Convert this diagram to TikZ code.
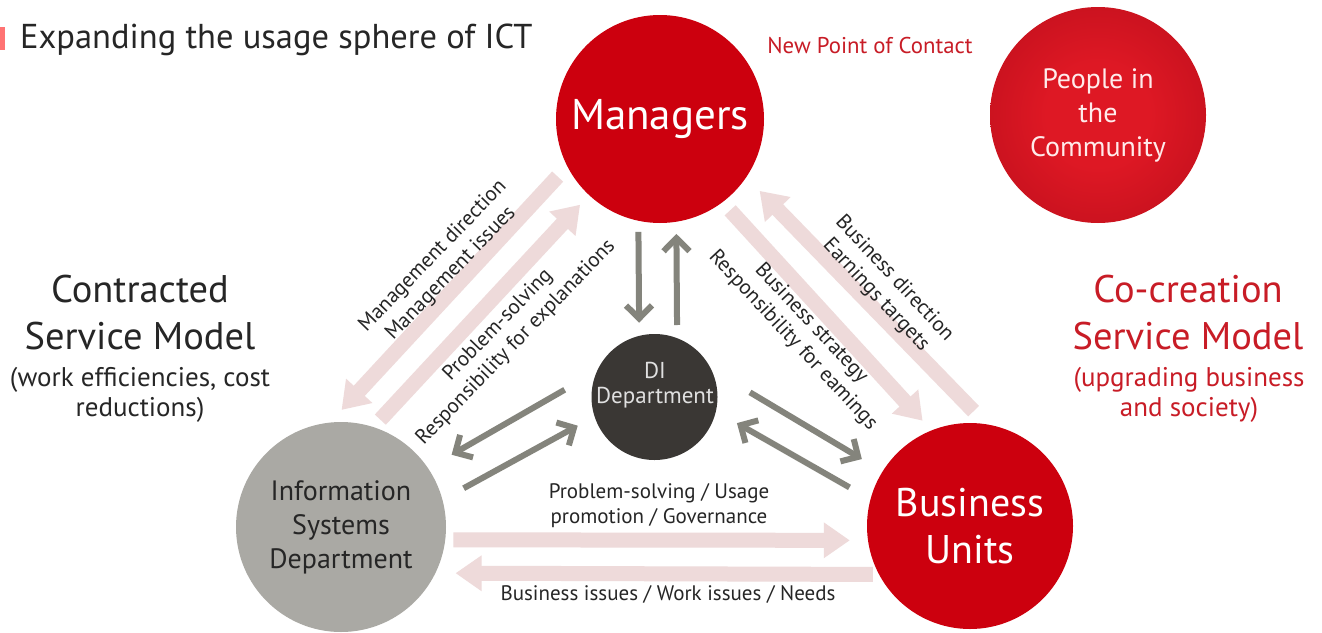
\documentclass[tikz,border=0pt]{standalone}
\usepackage{fontspec}
\setmainfont{PT Sans}
\usetikzlibrary{arrows.meta}
\definecolor{mred}{RGB}{204,0,14}
\definecolor{pcin}{RGB}{222,24,36}
\definecolor{pcout}{RGB}{168,8,22}
\definecolor{digray}{RGB}{58,55,52}
\definecolor{isgray}{RGB}{170,169,164}
\definecolor{pinkc}{RGB}{238,218,218}
\definecolor{arrgray}{RGB}{132,132,124}
\definecolor{txtdark}{RGB}{38,38,38}
\definecolor{txtred}{RGB}{200,28,38}
\pgfdeclareradialshading{pcshade}{\pgfpoint{0bp}{0bp}}{color(0bp)=(pcin); color(12bp)=(pcin); color(50bp)=(pcout); color(72bp)=(pcout)}
\begin{document}
\begin{tikzpicture}[x=1pt,y=-1pt,
  bigcircle/.style={circle,inner sep=0pt,align=center},
  pinkarrow/.style={line width=15pt,color=pinkc,-{Triangle[length=26pt,width=34pt]}},
  grayarrow/.style={line width=6pt,color=arrgray,-{Straight Barb[length=13pt,width=26pt]}},
  smalllabel/.style={text=txtdark,align=center,font=\fontsize{21}{25}\selectfont},
  modeltitle/.style={align=center,font=\fontsize{38.5}{47}\selectfont},
  modelsub/.style={align=center,font=\fontsize{27}{30}\selectfont}
]
\useasboundingbox (0,0) rectangle (1322,632);
\fill[white] (0,0) rectangle (1322,632);

% title
\fill[red!55] (0,27) rectangle (5,50);
\node[anchor=west,text=txtdark,font=\fontsize{34.5}{38}\selectfont,inner sep=0pt] (title) at (20,40) {Expanding the usage sphere of ICT};

% circles
\node[bigcircle,fill=mred,minimum size=208pt,text=white,font=\fontsize{43}{46}\selectfont] (man) at (660,119) {Managers};
\node[bigcircle,shading=pcshade,minimum size=216pt,text=white!92!red,font=\fontsize{28}{34}\selectfont] (pc) at (1098,115) {People in\\the\\Community};
\node[bigcircle,fill=digray,minimum size=126pt] (di) at (654.5,397) {};
\node[text=white!88!black,align=center,font=\fontsize{23}{25}\selectfont] (ditext) at (655,385) {DI\\Department};
\node[bigcircle,fill=isgray,minimum size=210pt,text=txtdark,font=\fontsize{28}{34}\selectfont] (isd) at (341,527) {Information\\Systems\\Department};
\node[bigcircle,fill=mred,minimum size=206pt,text=white,font=\fontsize{40}{47}\selectfont] (bu) at (970,526) {Business\\Units};

% side texts
\node[modeltitle,text=txtdark] (cmodel) at (140,313) {Contracted\\Service Model};
\node[modelsub,text=txtdark] (csub) at (140,395) {(work efficiencies, cost\\reductions)};
\node[modeltitle,text=txtred] (ccmodel) at (1188,313) {Co-creation\\Service Model};
\node[modelsub,text=txtred] (ccsub) at (1189,395) {(upgrading business\\and society)};
\node[text=txtred,font=\fontsize{22.8}{24}\selectfont] (npc) at (870,46) {New Point of Contact};

% pink arrows
\draw[pinkarrow,shorten <=14pt,shorten >=17pt] (man.207) -- (isd.96);
\draw[pinkarrow,shorten <=10pt,shorten >=13pt] (isd.72) -- (man.227);
\draw[pinkarrow,shorten <=11pt,shorten >=13pt] (man.307) -- (bu.112);
\draw[pinkarrow,shorten <=18pt,shorten >=19pt] (bu.81) -- (man.326);
\draw[pinkarrow,shorten <=8pt,shorten >=18pt] (isd.353) -- (bu.188);
\draw[pinkarrow,shorten <=6pt,shorten >=20pt] (bu.208) -- (isd.334);

% gray arrows
\draw[grayarrow,shorten <=11pt,shorten >=13pt] (man.258) -- (di.104);
\draw[grayarrow,shorten <=13pt,shorten >=12pt] (di.69) -- (man.279);
\draw[grayarrow,shorten <=37pt,shorten >=27pt] (di.156) -- (isd.34);
\draw[grayarrow,shorten <=24pt,shorten >=19pt] (isd.15) -- (di.198);
\draw[grayarrow,shorten <=45pt,shorten >=24pt] (di.26) -- (bu.148);
\draw[grayarrow,shorten <=24pt,shorten >=24pt] (bu.165) -- (di.347);

% arrow labels
\node[smalllabel,rotate=46] (l1) at (442,265) {Management direction\\Management issues};
\node[smalllabel,rotate=46] (l2) at (507,334) {Problem-solving\\Responsibility for explanations};
\node[smalllabel,rotate=-47] (l3) at (885,287) {Business direction\\Earnings targets};
\node[smalllabel,rotate=-47] (l4) at (802,332) {Business strategy\\Responsibility for eamings};
\node[smalllabel] (l5) at (659,506) {Problem-solving / Usage\\promotion / Governance};
\node[smalllabel] (l6) at (668,594) {Business issues / Work issues / Needs};
\end{tikzpicture}
\end{document}
